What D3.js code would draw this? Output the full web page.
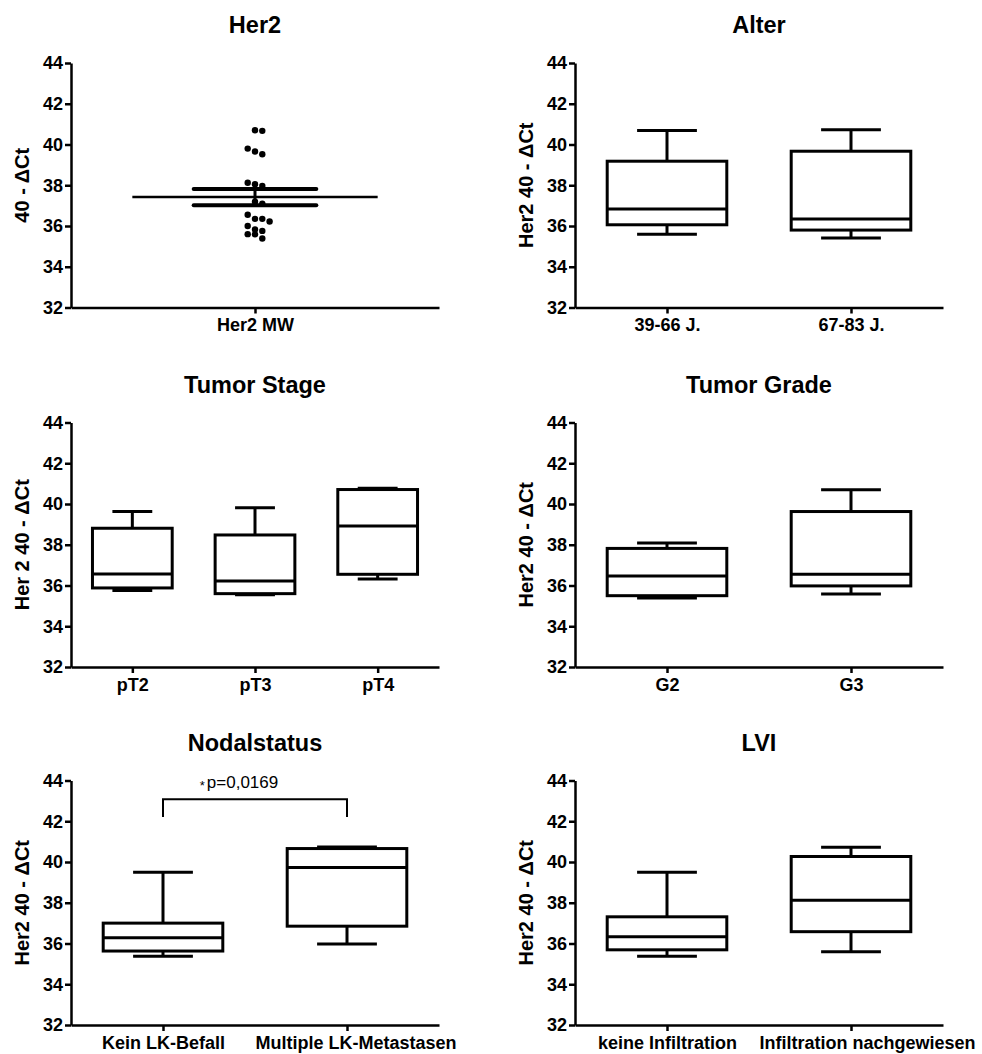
<!DOCTYPE html>
<html>
<head>
<meta charset="utf-8">
<script src="https://cdn.jsdelivr.net/npm/d3@7"></script>
<style>
  body { margin: 0; background: #fff; }
  svg text { font-family: Arial, "Liberation Sans", sans-serif; fill: #000; }
</style>
</head>
<body>
<div id="main"></div>
<script>
// ---- data ----
const yTicks = [32, 34, 36, 38, 40, 42, 44];

const her2Cats = ["Her2 MW"];
const her2Values = [40.70, 40.67, 39.80, 39.66, 39.52, 38.12, 38.05, 37.96, 37.19, 37.10,
                    36.55, 36.35, 36.35, 36.22, 36.00, 35.83, 35.76, 35.60, 35.59, 35.39];

// each box: [min, q1, median, q3, max]
const alterCats = ["39-66 J.", "67-83 J."];
const alterBoxes = [[35.60, 36.06, 36.84, 39.18, 40.69], [35.41, 35.80, 36.34, 39.67, 40.73]];

const stageCats = ["pT2", "pT3", "pT4"];
const stageBoxes = [[35.76, 35.88, 36.57, 38.81, 39.63], [35.55, 35.60, 36.22, 38.48, 39.82],
                    [36.32, 36.55, 38.92, 40.71, 40.77]];

const gradeCats = ["G2", "G3"];
const gradeBoxes = [[35.39, 35.50, 36.47, 37.82, 38.08], [35.58, 35.98, 36.55, 39.63, 40.70]];

const nodalCats = ["Kein LK-Befall", "Multiple LK-Metastasen"];
const nodalBoxes = [[35.38, 35.63, 36.28, 37.00, 39.50], [35.97, 36.85, 39.73, 40.66, 40.74]];
const nodalPText = "p=0,0169";
const nodalBracket = [42.21, 43.08]; // leg bottom, bar level

const lviCats = ["keine Infiltration", "Infiltration nachgewiesen"];
const lviBoxes = [[35.38, 35.69, 36.33, 37.31, 39.50], [35.59, 36.58, 38.12, 40.27, 40.73]];

// ---- layout ----
const colX = [71, 575];
const rowY = [63, 422.5, 780.5];
const plotW = 368, plotH = 244.5;

const panels = [
  { title: "Her2", ylab: "40 - ΔCt", cats: her2Cats, values: her2Values, col: 0, row: 0 },
  { title: "Alter", ylab: "Her2 40 - ΔCt", cats: alterCats, boxes: alterBoxes, col: 1, row: 0 },
  { title: "Tumor Stage", ylab: "Her 2 40 - ΔCt", cats: stageCats, boxes: stageBoxes, col: 0, row: 1 },
  { title: "Tumor Grade", ylab: "Her2 40 - ΔCt", cats: gradeCats, boxes: gradeBoxes, col: 1, row: 1 },
  { title: "Nodalstatus", ylab: "Her2 40 - ΔCt", cats: nodalCats, boxes: nodalBoxes, col: 0, row: 2, sig: true },
  { title: "LVI", ylab: "Her2 40 - ΔCt", cats: lviCats, boxes: lviBoxes, col: 1, row: 2 }
];

const svg = d3.select("#main")
  .append("svg")
  .attr("width", 982)
  .attr("height", 1054);

panels.forEach((p) => {
  const left = colX[p.col], top = rowY[p.row];
  const g = svg.append("g");

  const y = d3.scaleLinear().domain([32, 44]).range([top + plotH, top]);
  const x = d3.scalePoint().domain(p.cats).range([left, left + plotW]).padding(0.5);
  const step = x.step();

  // title
  g.append("text")
    .attr("x", left + plotW / 2)
    .attr("y", top - 30)
    .attr("text-anchor", "middle")
    .attr("font-size", 23.5)
    .attr("font-weight", "bold")
    .text(p.title);

  // y label
  g.append("text")
    .attr("transform", `translate(${left - 49},${top + plotH / 2}) rotate(-90)`)
    .attr("text-anchor", "middle")
    .attr("dy", "0.35em")
    .attr("font-size", 20)
    .attr("font-weight", "bold")
    .text(p.ylab);

  // axes
  const yAxis = g.append("g")
    .attr("transform", `translate(${left},0)`)
    .call(d3.axisLeft(y).tickValues(yTicks).tickSize(6).tickSizeOuter(0).tickPadding(2));

  const xAxis = g.append("g")
    .attr("transform", `translate(0,${top + plotH})`)
    .call(d3.axisBottom(x).tickSize(6).tickSizeOuter(0).tickPadding(5));

  [yAxis, xAxis].forEach((a) => {
    a.select(".domain").attr("stroke", "#000").attr("stroke-width", 2.5);
    a.selectAll(".tick line").attr("stroke", "#000").attr("stroke-width", 2.5);
    a.selectAll(".tick text")
      .attr("font-size", 18)
      .attr("font-weight", "bold")
      .attr("font-family", null);
  });

  // keep each category label inside its own band (left edge)
  xAxis.selectAll(".tick text").each(function () {
    const w = this.getComputedTextLength();
    d3.select(this)
      .attr("text-anchor", "start")
      .attr("x", Math.max(-w / 2, -step / 2));
  });

  if (p.values) {
    // scatter with mean and SEM
    const cx = x(p.cats[0]);
    const sorted = p.values.slice().sort((a, b) => b - a);
    const rows = [];
    sorted.forEach((v) => {
      const last = rows[rows.length - 1];
      if (last && y(v) - y(last[0]) <= 7.5) last.push(v);
      else rows.push([v]);
    });
    const dots = rows.flatMap((r) => r.map((v, i) => ({ v, k: i - Math.floor((r.length - 1) / 2) })));

    g.selectAll(".dot")
      .data(dots)
      .enter().append("circle")
      .attr("class", "dot")
      .attr("cx", (d) => cx + d.k * 7.3)
      .attr("cy", (d) => y(d.v))
      .attr("r", 3.2)
      .attr("fill", "#000");

    const mean = d3.mean(p.values);
    const sem = d3.deviation(p.values) / Math.sqrt(p.values.length);

    g.append("line")
      .attr("x1", cx - step / 3).attr("x2", cx + step / 3)
      .attr("y1", y(mean)).attr("y2", y(mean))
      .attr("stroke", "#000").attr("stroke-width", 2.5);
    g.append("line")
      .attr("x1", cx).attr("x2", cx)
      .attr("y1", y(mean + sem)).attr("y2", y(mean - sem))
      .attr("stroke", "#000").attr("stroke-width", 3);
    [mean + sem, mean - sem].forEach((v) => {
      g.append("line")
        .attr("x1", cx - step / 6).attr("x2", cx + step / 6)
        .attr("y1", y(v)).attr("y2", y(v))
        .attr("stroke", "#000").attr("stroke-width", 4)
        .attr("stroke-linecap", "round");
    });
  } else {
    const bw = step * 0.65;
    const boxes = g.selectAll(".box")
      .data(p.boxes)
      .enter().append("g")
      .attr("class", "box")
      .attr("stroke", "#000")
      .attr("stroke-width", 3)
      .attr("fill", "none");

    // whiskers
    boxes.append("path")
      .attr("d", (d, i) => {
        const cx = x(p.cats[i]);
        return `M${cx},${y(d[4])}V${y(d[3])}M${cx},${y(d[1])}V${y(d[0])}` +
          `M${cx - bw / 4},${y(d[4])}H${cx + bw / 4}M${cx - bw / 4},${y(d[0])}H${cx + bw / 4}`;
      });
    // box
    boxes.append("rect")
      .attr("x", (d, i) => x(p.cats[i]) - bw / 2)
      .attr("y", (d) => y(d[3]))
      .attr("width", bw)
      .attr("height", (d) => y(d[1]) - y(d[3]));
    // median
    boxes.append("line")
      .attr("x1", (d, i) => x(p.cats[i]) - bw / 2)
      .attr("x2", (d, i) => x(p.cats[i]) + bw / 2)
      .attr("y1", (d) => y(d[2]))
      .attr("y2", (d) => y(d[2]));
  }

  if (p.sig) {
    const x0 = x(p.cats[0]), x1 = x(p.cats[1]);
    g.append("path")
      .attr("d", `M${x0},${y(nodalBracket[0])}V${y(nodalBracket[1])}H${x1}V${y(nodalBracket[0])}`)
      .attr("fill", "none")
      .attr("stroke", "#000")
      .attr("stroke-width", 2);
    const t = g.append("text")
      .attr("x", (x0 + x1) / 2 - 16)
      .attr("y", y(nodalBracket[1]) - 11)
      .attr("text-anchor", "middle")
      .attr("font-size", 17);
    t.append("tspan").attr("font-size", 13).attr("dy", 2).text("*");
    t.append("tspan").attr("dy", -2).attr("dx", 2).text(nodalPText);
  }
});
</script>
</body>
</html>
